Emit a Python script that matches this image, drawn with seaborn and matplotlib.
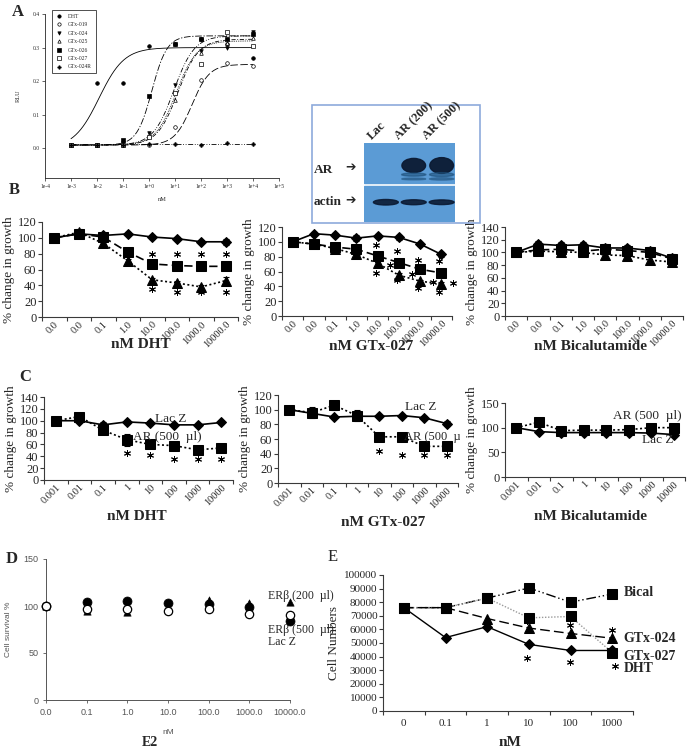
import numpy as np
import seaborn as sns
import matplotlib.pyplot as plt
from matplotlib.lines import Line2D
from matplotlib.patches import Rectangle, Ellipse
from matplotlib.ticker import NullLocator
from matplotlib.transforms import Bbox, TransformedBbox

# ---------------- A: RLU dose response ----------------
a_dose = [1e-3, 1e-2, 1e-1, 1e0, 1e1, 1e2, 1e3, 1e4]
a_xticks = [1e-4, 1e-3, 1e-2, 1e-1, 1e0, 1e1, 1e2, 1e3, 1e4, 1e5]
a_xtick_labels = ["1e-4", "1e-3", "1e-2", "1e-1", "1e+0", "1e+1", "1e+2", "1e+3", "1e+4", "1e+5"]
a_names = ["DHT", "GTx-019", "GTx-024", "GTx-025", "GTx-026", "GTx-027", "GTx-024R"]
a_dht = [0.01, 0.195, 0.195, 0.305, 0.31, 0.325, 0.31, 0.27]
a_gtx019 = [0.01, 0.01, 0.01, 0.01, 0.065, 0.205, 0.255, 0.245]
a_gtx024 = [0.01, 0.01, 0.015, 0.045, 0.19, 0.29, 0.30, 0.345]
a_gtx025 = [0.01, 0.01, 0.01, 0.04, 0.145, 0.285, 0.315, 0.33]
a_gtx026 = [0.01, 0.01, 0.025, 0.155, 0.31, 0.325, 0.325, 0.34]
a_gtx027 = [0.01, 0.01, 0.01, 0.035, 0.165, 0.25, 0.345, 0.305]
a_gtx024r = [0.01, 0.01, 0.01, 0.012, 0.012, 0.01, 0.015, 0.012]
# sigmoid fit parameters
a_fit_bottom = [0.0, 0.01, 0.01, 0.01, 0.01, 0.01, 0.012]
a_fit_top = [0.30, 0.25, 0.335, 0.325, 0.335, 0.32, 0.012]
a_fit_ec50 = [0.012, 45, 9, 13, 1.3, 11, 1.0]
a_fit_hill = [0.9, 1.3, 1.1, 1.1, 1.5, 1.1, 1.0]

# ---------------- B: growth, AR transfected ----------------
b_labels = ["0.0", "0.0", "0.1", "1.0", "10.0", "100.0", "1000.0", "10000.0"]
b_dht_lacz = [100, 105, 103, 105, 101, 99, 95, 95]
b_dht_ar200 = [100, 105, 101, 82, 67, 65, 64, 64]
b_dht_ar500 = [100, 107, 93, 71, 47, 43, 38, 46]
b_dht_err = [2, 4, 3, 2, 2, 2, 2, 4]
b_dht_star_x = [4, 5, 6, 7, 4, 5, 6, 7]
b_dht_star_y = [80, 80, 80, 80, 36, 32, 32, 32]

b_027_lacz = [100, 111, 109, 105, 108, 106, 97, 83]
b_027_ar200 = [100, 97, 93, 90, 81, 72, 63, 58]
b_027_ar500 = [100, 97, 91, 83, 71, 55, 47, 43]
b_027_err = [2, 2, 3, 4, 3, 3, 2, 3]
b_027_star_x = [3.9, 4.9, 5.9, 6.9, 4.6, 5.6, 6.6, 7.55, 3.9, 4.9, 5.9, 6.9]
b_027_star_y = [96, 87, 76, 74, 69, 57, 46, 45, 58, 49, 38, 33]

b_bic_lacz = [100, 113, 111, 112, 107, 107, 103, 91]
b_bic_ar200 = [100, 104, 105, 102, 105, 103, 100, 90]
b_bic_ar500 = [100, 102, 101, 100, 96, 95, 88, 85]
b_bic_err = [3, 5, 5, 5, 6, 5, 5, 6]

# ---------------- C: growth, AR (500 ul) vs Lac Z ----------------
c_labels = ["0.001", "0.01", "0.1", "1", "10", "100", "1000", "10000"]
c_dht_lacz = [100, 100, 93, 98, 96, 93, 93, 97]
c_dht_ar = [100, 107, 84, 68, 60, 58, 51, 54]
c_dht_lacz_err = [2, 3, 4, 4, 4, 3, 2, 2]
c_dht_ar_err = [2, 3, 3, 10, 2, 2, 2, 2]
c_dht_star_x = [3, 4, 5, 6, 7]
c_dht_star_y = [45, 43, 36, 36, 36]

c_027_lacz = [100, 95, 90, 91, 91, 92, 89, 81]
c_027_ar = [100, 96, 106, 92, 63, 63, 50, 50]
c_027_lacz_err = [2, 4, 2, 3, 2, 2, 2, 3]
c_027_ar_err = [2, 8, 6, 8, 2, 2, 2, 2]
c_027_star_x = [4, 5, 6, 7]
c_027_star_y = [43, 38, 38, 38]

c_bic_ar = [100, 111, 94, 95, 95, 96, 100, 100]
c_bic_lacz = [100, 92, 90, 90, 90, 90, 89, 86]

# ---------------- D: ER-beta, E2 ----------------
d_labels = ["0.0", "0.1", "1.0", "10.0", "100.0", "1000.0", "10000.0"]
d_lacz = [100, 104, 105, 103, 102, 99, 84]
d_erb200 = [100, 97, 97, 95, 97, 91, 90]
d_erb500 = [100, 95, 94, 97, 106, 103, 104]

# ---------------- E: cell numbers ----------------
e_labels = ["0", "0.1", "1", "10", "100", "1000"]
e_dht = [76000, 54000, 62000, 49000, 44500, 44500]
e_gtx024 = [76000, 76000, 68000, 61000, 57000, 53500]
e_gtx027 = [76000, 76000, 83000, 68500, 69500, 43000]
e_bical = [76000, 76000, 83000, 90500, 80000, 86000]
e_star_x = [2.95, 3.98, 2.95, 3.98, 5.0, 5.06]
e_star_y = [38700, 36300, 66500, 63200, 59600, 33000]

# ---------------- blot ----------------
blot_lanes = ["Lac", "AR (200)", "AR (500)"]
blot_ar = [0.0, 0.8, 1.0]
blot_actin = [1.0, 0.9, 0.85]

sns.set_style("ticks")
plt.rcParams["font.family"] = ["Liberation Serif", "DejaVu Sans"]
plt.rcParams["axes.linewidth"] = 0.8

W, H = 689, 753
fig = plt.figure(figsize=(W / 100, H / 100), dpi=100)


def ax_at(l, t, r, b):
    return fig.add_axes([l / W, 1 - b / H, (r - l) / W, (b - t) / H])


def ftext(x, y, s, **kw):
    return fig.text(x / W, 1 - y / H, s, **kw)


AXC = "#3a3a3a"


def excel_axes(ax, labels, ymax, ystep, fs=9, xfs=7.5, rotate=True):
    n = len(labels)
    ax.set_xlim(-0.5, n - 0.5)
    ax.set_ylim(0, ymax)
    ax.set_yticks(np.arange(0, ymax + 1, ystep))
    ax.set_xticks(range(n))
    if rotate:
        ax.set_xticklabels(labels, rotation=45, ha="right", va="top",
                           rotation_mode="anchor", fontsize=xfs)
    else:
        ax.set_xticklabels(labels, fontsize=xfs)
    ax.set_xticks(np.arange(-0.5, n), minor=True)
    ax.tick_params(axis="x", which="major", length=0, pad=2)
    ax.tick_params(axis="x", which="minor", length=3, width=0.8, color=AXC)
    ax.tick_params(axis="y", length=3, width=0.8, color=AXC, labelsize=fs, pad=1)
    for s in ["top", "right"]:
        ax.spines[s].set_visible(False)
    for s in ["left", "bottom"]:
        ax.spines[s].set_color(AXC)


def series(ax, vals, ls, marker, ms, err=None, color="black", lw=1.2, mfc=None):
    x = np.arange(len(vals))
    if err is not None:
        ax.errorbar(x, vals, yerr=err, fmt="none", ecolor="black", elinewidth=0.8,
                    capsize=2, capthick=0.8, zorder=2)
    sns.lineplot(x=x, y=vals, ax=ax, color=color, linestyle=ls, linewidth=lw,
                 marker=marker, markersize=ms, markeredgecolor="black",
                 markerfacecolor=mfc if mfc else "black", zorder=3)


def stars(ax, xs, ys, ms=5):
    ax.plot(xs, ys, ls="none", marker=(6, 2, 0), ms=ms, mew=0.7, color="black",
            clip_on=False, zorder=4)


DASH = (0, (5, 2.5))
DOT = (0, (1.2, 1.5))

# ======== Panel A ========
axA = ax_at(45, 14, 279, 178)
axA.set_xscale("log")
axA.set_xlim(1e-4, 1e5)
axA.set_ylim(-0.088, 0.4)
axA.set_xticks(a_xticks)
axA.set_xticklabels(a_xtick_labels)
axA.xaxis.set_minor_locator(NullLocator())
axA.set_yticks([0, 0.1, 0.2, 0.3, 0.4])
axA.set_yticklabels(["0.0", "0.1", "0.2", "0.3", "0.4"])
axA.tick_params(labelsize=4, length=2, width=0.5, pad=2)
for s in ["top", "right"]:
    axA.spines[s].set_visible(False)
for s in ["left", "bottom"]:
    axA.spines[s].set_linewidth(0.6)
axA.set_ylabel("RLU", fontsize=4.5, labelpad=8)
axA.set_xlabel("nM", fontsize=4.5, labelpad=6)

a_values = [a_dht, a_gtx019, a_gtx024, a_gtx025, a_gtx026, a_gtx027, a_gtx024r]
a_markers = ["o", "o", "v", "^", "s", "s", "P"]
a_fill = ["black", "white", "black", "white", "black", "white", "black"]
a_ls = ["-", (0, (9, 3)), (0, (6, 2, 1, 2, 1, 2)), (0, (5, 2, 1, 2)),
        (0, (8, 2, 1.5, 2)), (0, (1, 1.2)), (0, (6, 2, 1, 2, 1, 2))]
xs = np.logspace(-3, 4, 300)
for i in range(len(a_names)):
    ys = a_fit_bottom[i] + (a_fit_top[i] - a_fit_bottom[i]) / (1 + (a_fit_ec50[i] / xs) ** a_fit_hill[i])
    sns.lineplot(x=xs, y=ys, ax=axA, color="black", linewidth=0.6, linestyle=a_ls[i])
    axA.plot(a_dose, a_values[i], ls="none", marker=a_markers[i], ms=2.6,
             mfc=a_fill[i], mec="black", mew=0.5, zorder=3)

handles = [Line2D([], [], ls="none", marker=a_markers[i], ms=2.4, mfc=a_fill[i],
                  mec="black", mew=0.5) for i in range(len(a_names))]
leg = axA.legend(handles, a_names, loc="upper left", bbox_to_anchor=(0.03, 1.025),
                 fontsize=4, frameon=True, fancybox=False, edgecolor="black",
                 borderpad=0.7, labelspacing=0.62, handletextpad=1.2,
                 handlelength=1.0, borderaxespad=0)
leg.get_frame().set_linewidth(0.6)

# ======== Blot inset ========
fig.add_artist(Rectangle((312 / W, 1 - 223 / H), (480 - 312) / W, (223 - 105) / H,
                         transform=fig.transFigure, fill=False,
                         edgecolor="#8eaadb", linewidth=1.2))
axI = ax_at(364, 143, 455, 222)
axI.set_xlim(0, 3)
axI.set_ylim(0, 1)
axI.axis("off")
axI.add_patch(Rectangle((0, 0.5), 3, 0.5, color="#5b9bd5"))
axI.add_patch(Rectangle((0, 0), 3, 0.455, color="#5b9bd5"))
for i, lane in enumerate(blot_lanes):
    cx = 0.72 + i * 0.92
    if blot_ar[i] > 0:
        axI.add_patch(Ellipse((cx, 0.715), 0.78, 0.1 + 0.1 * blot_ar[i],
                              color="#0b1a33", alpha=0.95))
        axI.add_patch(Ellipse((cx, 0.6), 0.8, 0.05 * blot_ar[i],
                              color="#1d4f7a", alpha=0.6))
        axI.add_patch(Ellipse((cx, 0.545), 0.8, 0.03 * blot_ar[i],
                              color="#1d4f7a", alpha=0.5))
    axI.add_patch(Ellipse((cx, 0.25), 0.82, 0.07 * blot_actin[i],
                          color="#0b1a33", alpha=0.9))
    ftext(364 + (cx - 0.4) * 91 / 3, 142, lane, rotation=45, fontsize=9,
          fontweight="bold", ha="left", va="bottom", rotation_mode="anchor")
ftext(314, 170, "AR", fontsize=9.5, fontweight="bold", va="center")
ftext(345, 168, "\u2794", fontsize=9, family="DejaVu Sans", va="center")
ftext(314, 202, "actin", fontsize=9.5, fontweight="bold", va="center")
ftext(345, 201, "\u2794", fontsize=9, family="DejaVu Sans", va="center")

# ======== Panel B ========
axB1 = ax_at(42, 222, 238, 317)
excel_axes(axB1, b_labels, 120, 20)
series(axB1, b_dht_lacz, "-", "D", 5, err=b_dht_err)
series(axB1, b_dht_ar200, DASH, "s", 6.5, err=b_dht_err)
series(axB1, b_dht_ar500, DOT, "^", 6.5, err=b_dht_err)
stars(axB1, b_dht_star_x, b_dht_star_y)

axB2 = ax_at(282, 227, 452, 316)
excel_axes(axB2, b_labels, 120, 20)
series(axB2, b_027_lacz, "-", "D", 5, err=b_027_err)
series(axB2, b_027_ar200, DASH, "s", 6.5, err=b_027_err)
series(axB2, b_027_ar500, DOT, "^", 6.5, err=b_027_err)
stars(axB2, b_027_star_x, b_027_star_y)

axB3 = ax_at(505, 227, 683, 316)
excel_axes(axB3, b_labels, 140, 20)
series(axB3, b_bic_lacz, "-", "D", 5, err=b_bic_err)
series(axB3, b_bic_ar200, DASH, "s", 6.5, err=b_bic_err)
series(axB3, b_bic_ar500, DOT, "^", 6.5, err=b_bic_err)

for ax in [axB1, axB2, axB3]:
    ax.set_ylabel("% change in growth", fontsize=9.5, labelpad=2)
ftext(141, 344, "nM DHT", fontsize=11, fontweight="bold", ha="center", va="center")
ftext(371, 346, "nM GTx-027", fontsize=11, fontweight="bold", ha="center", va="center")
ftext(591, 346, "nM Bicalutamide", fontsize=11, fontweight="bold", ha="center", va="center")

# ======== Panel C ========
axC1 = ax_at(44, 397, 233, 480)
excel_axes(axC1, c_labels, 140, 20)
series(axC1, c_dht_lacz, "-", "D", 5, err=c_dht_lacz_err)
series(axC1, c_dht_ar, DOT, "s", 6.5, err=c_dht_ar_err)
stars(axC1, c_dht_star_x, c_dht_star_y)
axC1.text(4.2, 97, "Lac Z", fontsize=9.5, va="baseline")
axC1.text(3.25, 72, "AR (500  \u00b5l)", fontsize=9.5, va="center")

axC2 = ax_at(278, 395, 458, 483)
excel_axes(axC2, c_labels, 120, 20)
series(axC2, c_027_lacz, "-", "D", 5, err=c_027_lacz_err)
series(axC2, c_027_ar, DOT, "s", 6.5, err=c_027_ar_err)
stars(axC2, c_027_star_x, c_027_star_y)
axC2.text(5.15, 103, "Lac Z", fontsize=9.5, va="center")
t = axC2.text(5.1, 63, "AR (500  \u00b5l)", fontsize=9, va="center")
t.set_clip_on(True)
t.set_clip_path(None)
t.set_clip_box(TransformedBbox(Bbox.from_extents(0, 0, 460 / W, 1), fig.transFigure))

axC3 = ax_at(505, 403, 685, 477)
excel_axes(axC3, c_labels, 150, 50)
series(axC3, c_bic_ar, DOT, "s", 6.5)
series(axC3, c_bic_lacz, "-", "D", 5)
axC3.text(4.3, 123, "AR (500  \u00b5l)", fontsize=9.5, va="center")
axC3.text(5.6, 74, "Lac Z", fontsize=9.5, va="center")

for ax in [axC1, axC2, axC3]:
    ax.set_ylabel("% change in growth", fontsize=9.5, labelpad=2)
ftext(137, 517, "nM DHT", fontsize=11, fontweight="bold", ha="center", va="center")
ftext(383, 522, "nM GTx-027", fontsize=11, fontweight="bold", ha="center", va="center")
ftext(591, 517, "nM Bicalutamide", fontsize=11, fontweight="bold", ha="center", va="center")

# ======== Panel D ========
axD = ax_at(46, 559, 290, 700)
axD.set_xlim(0, 6)
axD.set_ylim(0, 150)
axD.set_yticks([0, 50, 100, 150])
axD.set_xticks(range(len(d_labels)))
axD.set_xticklabels(d_labels)
axD.tick_params(labelsize=6.5, labelcolor="#555555", length=2.5, width=0.6,
                color="#555555", pad=3, labelfontfamily="Liberation Sans")
for s in ["top", "right"]:
    axD.spines[s].set_visible(False)
for s in ["left", "bottom"]:
    axD.spines[s].set_color("#555555")
    axD.spines[s].set_linewidth(0.7)
dx = np.arange(len(d_labels))
sns.scatterplot(x=dx, y=d_erb500, ax=axD, marker="^", s=28, color="black",
                edgecolor="black", zorder=3, clip_on=False)
sns.scatterplot(x=dx, y=d_lacz, ax=axD, marker="o", s=42, color="black",
                edgecolor="black", zorder=4, clip_on=False)
axD.plot(dx, d_erb200, ls="none", marker="o", ms=6, mfc="white", mec="black",
         mew=0.9, zorder=5, clip_on=False)
axD.set_ylabel("Cell survival %", fontsize=6, color="#555555",
               family="Liberation Sans", labelpad=8)
axD.set_xlabel("nM", fontsize=6, color="#555555", family="Liberation Sans", labelpad=9)
axD.text(5.47, 111, "ER\u03b2 (200  \u00b5l)", fontsize=8.5, va="center")
axD.text(5.47, 74, "ER\u03b2 (500  \u00b5l)", fontsize=8.5, va="center")
axD.text(5.47, 62, "Lac Z", fontsize=8.5, va="center")
ftext(150, 742, "E2", fontsize=10, fontweight="bold", ha="center", va="center")

# ======== Panel E ========
axE = ax_at(383, 575, 633, 711)
excel_axes(axE, e_labels, 100000, 10000, fs=8, xfs=8, rotate=False)
axE.tick_params(axis="x", which="major", pad=6)
series(axE, e_bical, (0, (7, 2, 1, 2, 1, 2)), "s", 6.5, lw=1.0)
series(axE, e_gtx027, (0, (1, 1.2)), "s", 6.5, color="#9a9a9a", lw=1.0)
series(axE, e_gtx024, (0, (7, 3)), "^", 6.5, lw=1.0)
series(axE, e_dht, "-", "D", 5, lw=1.0)
stars(axE, e_star_x, e_star_y)
axE.set_ylabel("Cell Numbers", fontsize=9.5, labelpad=3)
for lab, y in zip(["Bical", "GTx-024", "GTx-027", "DHT"], [87000, 53400, 40000, 31400]):
    axE.text(5.28, y, lab, fontsize=10, fontweight="bold", va="center", clip_on=False)
ftext(510, 743, "nM", fontsize=11, fontweight="bold", ha="center", va="center")

# panel letters
ftext(18, 12, "A", fontsize=12, fontweight="bold", ha="center", va="center")
ftext(14, 190, "B", fontsize=12, fontweight="bold", ha="center", va="center")
ftext(25, 377, "C", fontsize=12, fontweight="bold", ha="center", va="center")
ftext(12, 559, "D", fontsize=12, fontweight="bold", ha="center", va="center")
ftext(333, 557, "E", fontsize=12, ha="center", va="center")

fig.savefig("out.png", dpi=100, facecolor="white")
